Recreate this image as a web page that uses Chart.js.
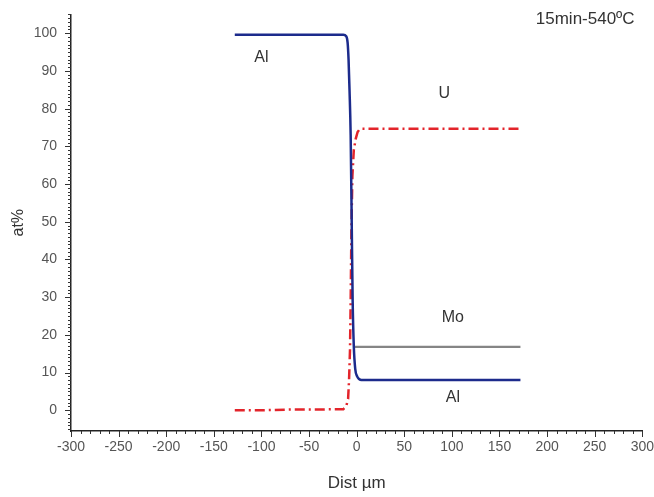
<!DOCTYPE html>
<html>
<head>
<meta charset="utf-8">
<script src="https://cdn.jsdelivr.net/npm/chart.js@4.4.1/dist/chart.umd.min.js"></script>
<style>
  html, body { margin: 0; padding: 0; background: #fff; }
  #wrap { width: 654px; height: 497px; }
</style>
</head>
<body>
<div id="wrap"><canvas id="profile" width="654" height="497"></canvas></div>
<script>
// Concentration profile across the interface (Dist in µm, at%)
const alDist = [-128, -100, -70, -40, -14, -11, -9.5, -8.5, -7.5, -6.3, -5.2, -4.2, -3, -1.5, 0.5, 2.5, 5, 40, 90, 130, 172];
const alAt   = [99.6, 99.6, 99.6, 99.6, 99.6, 99.2, 97.5, 93, 85, 73, 50, 29, 17, 11, 9, 8.3, 8, 8, 8, 8, 8];

const uDist = [-128, -100, -70, -40, -14, -11, -9, -8, -7, -6.3, -5.5, -4.5, -3, -1, 1, 3, 6, 50, 100, 140, 172];
const uAt   = [0, 0, 0.2, 0.2, 0.3, 1, 3, 8, 16, 29, 48, 62, 69, 72, 73.8, 74.5, 74.7, 74.7, 74.7, 74.7, 74.7];

const moDist = [-3, 0, 45, 90, 135, 172];
const moAt   = [16.8, 16.8, 16.8, 16.8, 16.8, 16.8];

const xTicks = [-300, -250, -200, -150, -100, -50, 0, 50, 100, 150, 200, 250, 300];
const yTicks = [0, 10, 20, 30, 40, 50, 60, 70, 80, 90, 100];

const notes = [
    { text: 'Al', x: -100, y: 93.6, size: 16 },
    { text: 'U', x: 92, y: 83.9, size: 16 },
    { text: 'Mo', x: 101, y: 24.5, size: 16 },
    { text: 'Al', x: 101, y: 3.4, size: 16 },
    { text: '15min-540ºC', x: 240, y: 103.6, size: 17 }
];

const toPoints = (xs, ys) => xs.map((x, i) => ({ x: x, y: ys[i] }));

// ticks drawn by hand so that minor ticks are possible
const axisTicks = {
    id: 'axisTicks',
    afterDraw(chart) {
        const ctx = chart.ctx;
        const xs = chart.scales.x;
        const ys = chart.scales.y;
        const area = chart.chartArea;
        ctx.save();
        ctx.strokeStyle = '#333';
        ctx.lineWidth = 1;
        ctx.beginPath();
        for (let v = -300; v <= 300; v += 10) {
            const px = Math.round(xs.getPixelForValue(v)) + 0.5;
            const len = v % 50 === 0 ? 6 : 3;
            ctx.moveTo(px, area.bottom);
            ctx.lineTo(px, area.bottom + len);
        }
        for (let v = -5; v <= 105; v += 1) {
            const py = Math.round(ys.getPixelForValue(v)) + 0.5;
            const len = v % 10 === 0 ? 6 : 3;
            ctx.moveTo(area.left, py);
            ctx.lineTo(area.left - len, py);
        }
        ctx.stroke();

        ctx.fillStyle = '#333';
        ctx.textAlign = 'center';
        ctx.textBaseline = 'middle';
        notes.forEach(n => {
            ctx.font = n.size + 'px "Liberation Sans", Arial, sans-serif';
            ctx.fillText(n.text, xs.getPixelForValue(n.x), ys.getPixelForValue(n.y));
        });
        ctx.restore();
    }
};

new Chart(document.getElementById('profile'), {
    type: 'scatter',
    data: {
        datasets: [
            {
                label: 'U',
                data: toPoints(uDist, uAt),
                showLine: true,
                borderColor: '#e3242b',
                borderWidth: 2.5,
                borderDash: [10, 4, 2, 4],
                pointRadius: 0,
                order: 3
            },
            {
                label: 'Mo',
                data: toPoints(moDist, moAt),
                showLine: true,
                borderColor: '#858585',
                borderWidth: 2.2,
                pointRadius: 0,
                order: 2
            },
            {
                label: 'Al',
                data: toPoints(alDist, alAt),
                showLine: true,
                borderColor: '#1c2b8c',
                borderWidth: 2.5,
                pointRadius: 0,
                cubicInterpolationMode: 'monotone',
                order: 1
            }
        ]
    },
    options: {
        responsive: false,
        animation: false,
        layout: { padding: { left: 0, right: 10, top: 2, bottom: 0 } },
        plugins: {
            legend: { display: false },
            tooltip: { enabled: false }
        },
        scales: {
            x: {
                type: 'linear',
                min: -300,
                max: 300,
                afterBuildTicks: (scale) => { scale.ticks = xTicks.map(v => ({ value: v })); },
                afterFit: (scale) => { scale.height = 66; },
                grid: { display: false },
                border: { display: true, color: '#222', width: 1.5 },
                ticks: {
                    color: '#555',
                    padding: 0,
                    maxRotation: 0,
                    font: { family: '"Liberation Sans", Arial, sans-serif', size: 14 }
                },
                title: {
                    display: true,
                    text: 'Dist µm',
                    color: '#333',
                    padding: { top: 0, bottom: 3 },
                    font: { family: '"Liberation Sans", Arial, sans-serif', size: 17 }
                }
            },
            y: {
                type: 'linear',
                min: -5.5,
                max: 105,
                afterBuildTicks: (scale) => { scale.ticks = yTicks.map(v => ({ value: v })); },
                afterFit: (scale) => { scale.width = 71; },
                grid: { display: false },
                border: { display: true, color: '#222', width: 1.5 },
                ticks: {
                    color: '#555',
                    padding: 6,
                    font: { family: '"Liberation Sans", Arial, sans-serif', size: 14 }
                },
                title: {
                    display: true,
                    text: 'at%',
                    color: '#333',
                    padding: { top: 9, bottom: 0 },
                    font: { family: '"Liberation Sans", Arial, sans-serif', size: 16 }
                }
            }
        }
    },
    plugins: [axisTicks]
});
</script>
</body>
</html>
